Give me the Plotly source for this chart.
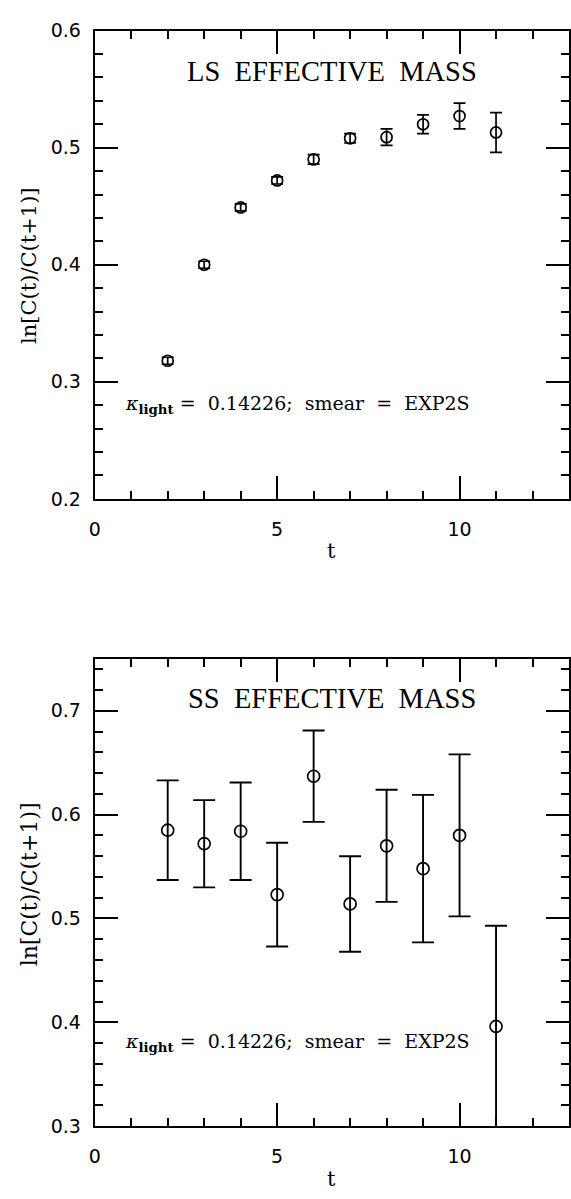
import plotly.graph_objects as go

# Effective mass ln[C(t)/C(t+1)] versus time slice t
t = [2, 3, 4, 5, 6, 7, 8, 9, 10, 11]

# local-smeared (LS) correlator
ls_mass = [0.318, 0.400, 0.449, 0.472, 0.490, 0.508, 0.509, 0.520, 0.527, 0.513]
ls_err = [0.003, 0.003, 0.003, 0.003, 0.004, 0.004, 0.007, 0.008, 0.011, 0.017]

# smeared-smeared (SS) correlator
ss_mass = [0.585, 0.572, 0.584, 0.523, 0.637, 0.514, 0.570, 0.548, 0.580, 0.396]
ss_err = [0.048, 0.042, 0.047, 0.050, 0.044, 0.046, 0.054, 0.071, 0.078, 0.097]

x_ticks = [0, 5, 10]
x_tick_text = ["0", "5", "10"]

W, H = 571, 1199
SERIF = "DejaVu Serif"
TITLE_SERIF = "Liberation Serif"
SANS = "DejaVu Sans"
NB = "\u00a0"

fig = go.Figure()

fig.add_trace(go.Scatter(
    x=t, y=ls_mass, mode="markers", xaxis="x", yaxis="y",
    marker=dict(symbol="circle-open", size=11, color="black", line=dict(width=1.7, color="black")),
    error_y=dict(type="data", array=ls_err, visible=True, color="black", thickness=1.7, width=6),
    showlegend=False,
))
fig.add_trace(go.Scatter(
    x=t, y=ss_mass, mode="markers", xaxis="x2", yaxis="y2",
    marker=dict(symbol="circle-open", size=12, color="black", line=dict(width=1.7, color="black")),
    error_y=dict(type="data", array=ss_err, visible=True, color="black", thickness=1.9, width=11),
    showlegend=False,
))

x_left = 90 / W


def xaxis_style(anchor):
    return dict(
        domain=[x_left, 1.0], range=[0, 13], anchor=anchor,
        tickmode="array", tickvals=x_ticks, ticktext=x_tick_text,
        ticks="inside", ticklen=23, tickwidth=1.8, tickcolor="black",
        minor=dict(dtick=1, tick0=0, ticks="inside", ticklen=8, tickwidth=1.5, tickcolor="black"),
        showline=True, linewidth=2, linecolor="black", mirror="allticks",
        showgrid=False, zeroline=False,
        tickfont=dict(family=SANS, size=19, color="black"),
        ticklabelstandoff=12,
    )


def yaxis_style(anchor, domain, rng, tick0):
    return dict(
        domain=domain, range=rng, anchor=anchor,
        tick0=tick0, dtick=0.1, tickformat=".1f",
        ticks="inside", ticklen=23, tickwidth=1.8, tickcolor="black",
        minor=dict(dtick=0.02, tick0=tick0, ticks="inside", ticklen=8, tickwidth=1.5, tickcolor="black"),
        showline=True, linewidth=2, linecolor="black", mirror="allticks",
        showgrid=False, zeroline=False,
        tickfont=dict(family=SANS, size=19, color="black"),
        ticklabelstandoff=8,
    )


top_dom = [1 - 497 / H, 1 - 20 / H]
bot_dom = [1 - 1136 / H, 1 - 660 / H]

fig.update_layout(
    width=W, height=H,
    margin=dict(l=0, r=0, t=0, b=0),
    paper_bgcolor="white", plot_bgcolor="white",
    xaxis=xaxis_style("y"),
    yaxis=yaxis_style("x", top_dom, [0.2, 0.6], 0.2),
    xaxis2=xaxis_style("y2"),
    yaxis2=yaxis_style("x2", bot_dom, [0.3, 0.75], 0.3),
)

label = (f"<i>κ</i><sub><b>light</b></sub>{NB}={NB}{NB}0.14226;{NB}{NB}smear{NB}{NB}={NB}{NB}EXP2S")

annotations = [
    dict(text=f"LS{NB}{NB}EFFECTIVE{NB}{NB}MASS", x=6.5, y=0.565, xref="x", yref="y",
         showarrow=False, xanchor="center", yanchor="middle",
         font=dict(family=TITLE_SERIF, size=28.5, color="black")),
    dict(text=f"SS{NB}{NB}EFFECTIVE{NB}{NB}MASS", x=6.5, y=0.712, xref="x2", yref="y2",
         showarrow=False, xanchor="center", yanchor="middle",
         font=dict(family=TITLE_SERIF, size=28.5, color="black")),
    dict(text=label, x=0.78, y=0.281, xref="x", yref="y",
         showarrow=False, xanchor="left", yanchor="middle",
         font=dict(family=SERIF, size=19, color="black")),
    dict(text=label, x=0.78, y=0.3805, xref="x2", yref="y2",
         showarrow=False, xanchor="left", yanchor="middle",
         font=dict(family=SERIF, size=19, color="black")),
    # axis titles
    dict(text="t", x=(90 + 571) / 2 / W, y=1 - 550 / H, xref="paper", yref="paper",
         showarrow=False, xanchor="center", yanchor="middle",
         font=dict(family=SERIF, size=21, color="black")),
    dict(text="t", x=(90 + 571) / 2 / W, y=1 - 1190 / H, xref="paper", yref="paper",
         showarrow=False, xanchor="center", yanchor="middle",
         font=dict(family=SERIF, size=21, color="black")),
    dict(text="ln[C(t)/C(t+1)]", x=24 / W, y=1 - 260 / H, xref="paper", yref="paper",
         showarrow=False, xanchor="center", yanchor="middle", textangle=-90,
         font=dict(family=SERIF, size=21, color="black")),
    dict(text="ln[C(t)/C(t+1)]", x=24 / W, y=1 - 890 / H, xref="paper", yref="paper",
         showarrow=False, xanchor="center", yanchor="middle", textangle=-90,
         font=dict(family=SERIF, size=22, color="black")),
]
fig.update_layout(annotations=annotations)

fig.write_html("out.html")
